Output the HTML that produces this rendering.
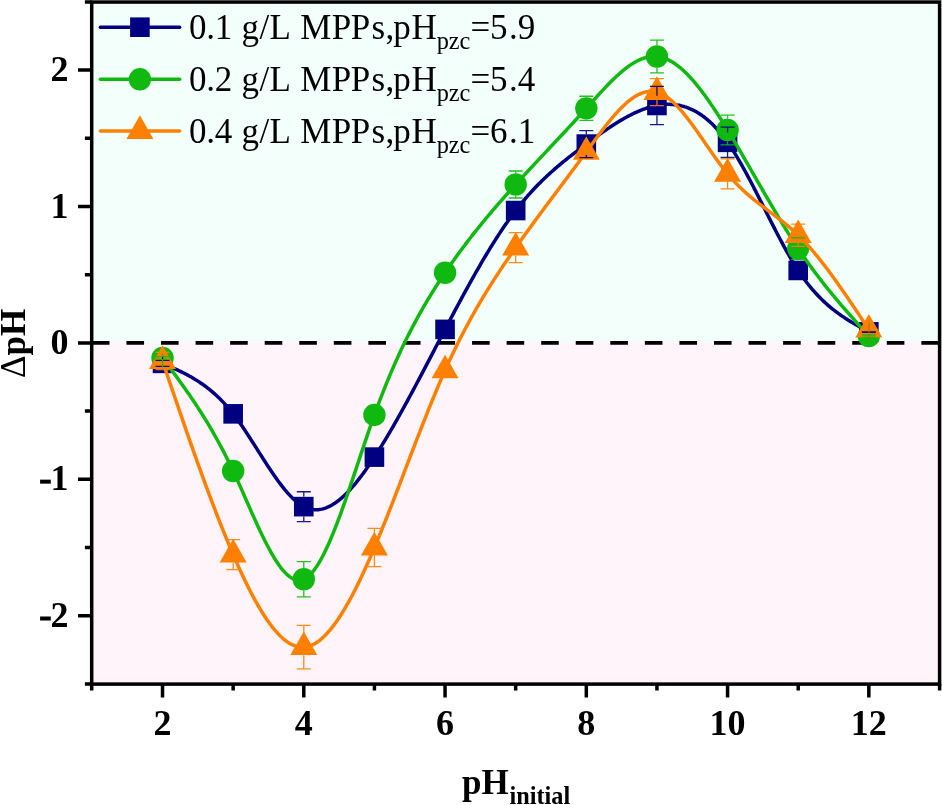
<!DOCTYPE html>
<html><head><meta charset="utf-8"><style>
html,body{margin:0;padding:0;background:#fff;}
svg{display:block;will-change:transform;}
</style></head><body>
<svg width="942" height="805" viewBox="0 0 942 805">
<rect width="942" height="805" fill="#fff"/>
<rect x="91.7" y="2.05" width="847.90" height="340.85" fill="#F3FFFA"/>
<rect x="91.7" y="342.90" width="847.90" height="341.20" fill="#FFF4FA"/>
<line x1="91.7" y1="342.90" x2="939.6" y2="342.90" stroke="#000" stroke-width="3.6" stroke-dasharray="17.6 16.96" stroke-dashoffset="-0.2"/>
<polyline points="162.53,363.37 163.71,363.88 164.89,364.38 166.07,364.89 167.25,365.40 168.43,365.92 169.60,366.43 170.78,366.95 171.96,367.48 173.14,368.01 174.32,368.54 175.50,369.08 176.68,369.62 177.86,370.17 179.04,370.73 180.22,371.30 181.40,371.87 182.58,372.46 183.75,373.05 184.93,373.66 186.11,374.27 187.29,374.90 188.47,375.53 189.65,376.18 190.83,376.85 192.01,377.52 193.19,378.21 194.37,378.92 195.55,379.64 196.72,380.37 197.90,381.12 199.08,381.89 200.26,382.68 201.44,383.48 202.62,384.30 203.80,385.14 204.98,386.01 206.16,386.89 207.34,387.79 208.52,388.71 209.70,389.66 210.87,390.62 212.05,391.61 213.23,392.63 214.41,393.67 215.59,394.73 216.77,395.82 217.95,396.93 219.13,398.07 220.31,399.24 221.49,400.43 222.67,401.65 223.84,402.90 225.02,404.18 226.20,405.49 227.38,406.83 228.56,408.20 229.74,409.61 230.92,411.04 232.10,412.51 233.28,414.01 234.46,415.54 235.64,417.10 236.82,418.70 237.99,420.32 239.17,421.97 240.35,423.65 241.53,425.34 242.71,427.07 243.89,428.81 245.07,430.57 246.25,432.35 247.43,434.14 248.61,435.95 249.79,437.77 250.96,439.60 252.14,441.43 253.32,443.28 254.50,445.13 255.68,446.99 256.86,448.85 258.04,450.71 259.22,452.57 260.40,454.43 261.58,456.28 262.76,458.13 263.94,459.97 265.11,461.80 266.29,463.62 267.47,465.43 268.65,467.23 269.83,469.01 271.01,470.78 272.19,472.52 273.37,474.25 274.55,475.95 275.73,477.63 276.91,479.29 278.08,480.92 279.26,482.52 280.44,484.09 281.62,485.63 282.80,487.14 283.98,488.61 285.16,490.04 286.34,491.44 287.52,492.80 288.70,494.12 289.88,495.39 291.06,496.62 292.23,497.81 293.41,498.94 294.59,500.03 295.77,501.07 296.95,502.05 298.13,502.98 299.31,503.86 300.49,504.67 301.67,505.43 302.85,506.13 304.03,506.76 305.20,507.33 306.38,507.84 307.56,508.29 308.74,508.68 309.92,509.00 311.10,509.27 312.28,509.48 313.46,509.63 314.64,509.72 315.82,509.76 317.00,509.74 318.18,509.66 319.35,509.53 320.53,509.35 321.71,509.12 322.89,508.83 324.07,508.49 325.25,508.11 326.43,507.67 327.61,507.18 328.79,506.65 329.97,506.07 331.15,505.44 332.32,504.77 333.50,504.05 334.68,503.29 335.86,502.48 337.04,501.63 338.22,500.74 339.40,499.81 340.58,498.84 341.76,497.83 342.94,496.78 344.12,495.69 345.30,494.56 346.47,493.40 347.65,492.20 348.83,490.97 350.01,489.70 351.19,488.40 352.37,487.07 353.55,485.71 354.73,484.31 355.91,482.88 357.09,481.43 358.27,479.94 359.45,478.43 360.62,476.89 361.80,475.32 362.98,473.73 364.16,472.12 365.34,470.47 366.52,468.81 367.70,467.12 368.88,465.41 370.06,463.68 371.24,461.93 372.42,460.16 373.59,458.37 374.77,456.56 375.95,454.74 377.13,452.90 378.31,451.04 379.49,449.16 380.67,447.27 381.85,445.37 383.03,443.44 384.21,441.51 385.39,439.56 386.57,437.59 387.74,435.61 388.92,433.61 390.10,431.61 391.28,429.59 392.46,427.55 393.64,425.51 394.82,423.45 396.00,421.38 397.18,419.30 398.36,417.21 399.54,415.11 400.71,413.00 401.89,410.88 403.07,408.74 404.25,406.60 405.43,404.45 406.61,402.29 407.79,400.13 408.97,397.95 410.15,395.77 411.33,393.58 412.51,391.39 413.69,389.18 414.86,386.98 416.04,384.76 417.22,382.54 418.40,380.32 419.58,378.09 420.76,375.85 421.94,373.61 423.12,371.37 424.30,369.12 425.48,366.87 426.66,364.62 427.83,362.37 429.01,360.11 430.19,357.85 431.37,355.59 432.55,353.33 433.73,351.07 434.91,348.81 436.09,346.55 437.27,344.29 438.45,342.03 439.63,339.77 440.81,337.51 441.98,335.25 443.16,332.99 444.34,330.74 445.52,328.49 446.70,326.24 447.88,324.00 449.06,321.76 450.24,319.52 451.42,317.29 452.60,315.06 453.78,312.84 454.95,310.62 456.13,308.41 457.31,306.21 458.49,304.00 459.67,301.81 460.85,299.62 462.03,297.44 463.21,295.27 464.39,293.10 465.57,290.94 466.75,288.79 467.93,286.65 469.10,284.52 470.28,282.39 471.46,280.28 472.64,278.17 473.82,276.08 475.00,273.99 476.18,271.92 477.36,269.86 478.54,267.80 479.72,265.76 480.90,263.73 482.07,261.71 483.25,259.71 484.43,257.72 485.61,255.74 486.79,253.77 487.97,251.82 489.15,249.88 490.33,247.95 491.51,246.04 492.69,244.15 493.87,242.26 495.05,240.40 496.22,238.55 497.40,236.71 498.58,234.90 499.76,233.10 500.94,231.31 502.12,229.54 503.30,227.79 504.48,226.06 505.66,224.35 506.84,222.65 508.02,220.97 509.19,219.31 510.37,217.67 511.55,216.05 512.73,214.45 513.91,212.87 515.09,211.32 516.27,209.78 517.45,208.26 518.63,206.76 519.81,205.28 520.99,203.83 522.17,202.39 523.34,200.97 524.52,199.57 525.70,198.18 526.88,196.82 528.06,195.47 529.24,194.14 530.42,192.83 531.60,191.54 532.78,190.26 533.96,189.00 535.14,187.75 536.31,186.52 537.49,185.30 538.67,184.10 539.85,182.91 541.03,181.74 542.21,180.58 543.39,179.44 544.57,178.30 545.75,177.19 546.93,176.08 548.11,174.98 549.29,173.90 550.46,172.83 551.64,171.77 552.82,170.72 554.00,169.68 555.18,168.65 556.36,167.64 557.54,166.63 558.72,165.63 559.90,164.64 561.08,163.65 562.26,162.68 563.43,161.72 564.61,160.76 565.79,159.81 566.97,158.86 568.15,157.93 569.33,156.99 570.51,156.07 571.69,155.15 572.87,154.24 574.05,153.33 575.23,152.42 576.41,151.52 577.58,150.63 578.76,149.74 579.94,148.85 581.12,147.96 582.30,147.08 583.48,146.20 584.66,145.32 585.84,144.44 587.02,143.57 588.20,142.69 589.38,141.82 590.55,140.95 591.73,140.08 592.91,139.22 594.09,138.36 595.27,137.50 596.45,136.64 597.63,135.79 598.81,134.95 599.99,134.11 601.17,133.27 602.35,132.44 603.53,131.61 604.70,130.79 605.88,129.98 607.06,129.17 608.24,128.38 609.42,127.58 610.60,126.80 611.78,126.02 612.96,125.25 614.14,124.49 615.32,123.74 616.50,123.00 617.67,122.27 618.85,121.54 620.03,120.83 621.21,120.13 622.39,119.44 623.57,118.76 624.75,118.09 625.93,117.43 627.11,116.79 628.29,116.16 629.47,115.54 630.65,114.93 631.82,114.34 633.00,113.76 634.18,113.19 635.36,112.64 636.54,112.11 637.72,111.58 638.90,111.08 640.08,110.59 641.26,110.11 642.44,109.66 643.62,109.21 644.79,108.79 645.97,108.38 647.15,107.99 648.33,107.62 649.51,107.27 650.69,106.93 651.87,106.61 653.05,106.32 654.23,106.04 655.41,105.78 656.59,105.54 657.77,105.33 658.94,105.13 660.12,104.96 661.30,104.80 662.48,104.67 663.66,104.56 664.84,104.47 666.02,104.41 667.20,104.37 668.38,104.35 669.56,104.36 670.74,104.39 671.91,104.45 673.09,104.53 674.27,104.64 675.45,104.77 676.63,104.93 677.81,105.12 678.99,105.33 680.17,105.58 681.35,105.84 682.53,106.14 683.71,106.47 684.89,106.82 686.06,107.21 687.24,107.62 688.42,108.07 689.60,108.54 690.78,109.04 691.96,109.58 693.14,110.15 694.32,110.75 695.50,111.38 696.68,112.05 697.86,112.74 699.04,113.47 700.21,114.24 701.39,115.04 702.57,115.87 703.75,116.74 704.93,117.64 706.11,118.58 707.29,119.56 708.47,120.57 709.65,121.61 710.83,122.70 712.01,123.82 713.18,124.98 714.36,126.18 715.54,127.42 716.72,128.69 717.90,130.01 719.08,131.36 720.26,132.76 721.44,134.19 722.62,135.67 723.80,137.18 724.98,138.74 726.16,140.34 727.33,141.98 728.51,143.67 729.69,145.40 730.87,147.16 732.05,148.97 733.23,150.81 734.41,152.69 735.59,154.60 736.77,156.55 737.95,158.53 739.13,160.54 740.30,162.58 741.48,164.65 742.66,166.74 743.84,168.86 745.02,171.01 746.20,173.17 747.38,175.36 748.56,177.57 749.74,179.79 750.92,182.04 752.10,184.29 753.28,186.57 754.45,188.85 755.63,191.15 756.81,193.46 757.99,195.78 759.17,198.10 760.35,200.43 761.53,202.77 762.71,205.11 763.89,207.45 765.07,209.80 766.25,212.14 767.42,214.48 768.60,216.82 769.78,219.15 770.96,221.48 772.14,223.80 773.32,226.11 774.50,228.41 775.68,230.70 776.86,232.98 778.04,235.24 779.22,237.49 780.40,239.72 781.57,241.94 782.75,244.13 783.93,246.30 785.11,248.45 786.29,250.58 787.47,252.68 788.65,254.76 789.83,256.81 791.01,258.83 792.19,260.82 793.37,262.78 794.54,264.70 795.72,266.59 796.90,268.45 798.08,270.27 799.26,272.05 800.44,273.79 801.62,275.49 802.80,277.16 803.98,278.79 805.16,280.39 806.34,281.95 807.52,283.48 808.69,284.97 809.87,286.43 811.05,287.86 812.23,289.26 813.41,290.62 814.59,291.96 815.77,293.27 816.95,294.54 818.13,295.79 819.31,297.01 820.49,298.21 821.66,299.38 822.84,300.52 824.02,301.64 825.20,302.73 826.38,303.80 827.56,304.84 828.74,305.87 829.92,306.87 831.10,307.85 832.28,308.81 833.46,309.75 834.64,310.67 835.81,311.57 836.99,312.45 838.17,313.32 839.35,314.17 840.53,315.00 841.71,315.82 842.89,316.62 844.07,317.41 845.25,318.19 846.43,318.95 847.61,319.70 848.78,320.44 849.96,321.17 851.14,321.88 852.32,322.59 853.50,323.29 854.68,323.98 855.86,324.66 857.04,325.34 858.22,326.01 859.40,326.67 860.58,327.33 861.76,327.98 862.93,328.63 864.11,329.28 865.29,329.92 866.47,330.57 867.65,331.21 868.83,331.85" fill="none" stroke="#000080" stroke-width="3.5" stroke-linejoin="round"/>
<rect x="152.73" y="353.57" width="19.6" height="19.6" fill="#000080"/>
<rect x="223.36" y="404.05" width="19.6" height="19.6" fill="#000080"/>
<rect x="293.99" y="496.84" width="19.6" height="19.6" fill="#000080"/>
<rect x="364.62" y="447.31" width="19.6" height="19.6" fill="#000080"/>
<rect x="435.25" y="319.59" width="19.6" height="19.6" fill="#000080"/>
<rect x="505.88" y="200.74" width="19.6" height="19.6" fill="#000080"/>
<rect x="576.51" y="134.29" width="19.6" height="19.6" fill="#000080"/>
<rect x="647.14" y="95.68" width="19.6" height="19.6" fill="#000080"/>
<rect x="717.77" y="132.52" width="19.6" height="19.6" fill="#000080"/>
<rect x="788.40" y="260.65" width="19.6" height="19.6" fill="#000080"/>
<rect x="859.03" y="322.05" width="19.6" height="19.6" fill="#000080"/>
<polyline points="162.53,357.91 163.71,359.49 164.89,361.07 166.07,362.65 167.25,364.24 168.43,365.83 169.60,367.41 170.78,369.01 171.96,370.60 173.14,372.20 174.32,373.81 175.50,375.41 176.68,377.03 177.86,378.65 179.04,380.28 180.22,381.91 181.40,383.56 182.58,385.21 183.75,386.87 184.93,388.54 186.11,390.22 187.29,391.90 188.47,393.60 189.65,395.32 190.83,397.04 192.01,398.77 193.19,400.52 194.37,402.28 195.55,404.06 196.72,405.85 197.90,407.65 199.08,409.47 200.26,411.31 201.44,413.16 202.62,415.03 203.80,416.92 204.98,418.82 206.16,420.75 207.34,422.69 208.52,424.65 209.70,426.63 210.87,428.64 212.05,430.66 213.23,432.71 214.41,434.77 215.59,436.86 216.77,438.98 217.95,441.11 219.13,443.27 220.31,445.46 221.49,447.67 222.67,449.91 223.84,452.17 225.02,454.46 226.20,456.78 227.38,459.12 228.56,461.49 229.74,463.89 230.92,466.33 232.10,468.79 233.28,471.28 234.46,473.80 235.64,476.35 236.82,478.92 237.99,481.52 239.17,484.13 240.35,486.77 241.53,489.41 242.71,492.07 243.89,494.74 245.07,497.42 246.25,500.09 247.43,502.77 248.61,505.45 249.79,508.12 250.96,510.78 252.14,513.44 253.32,516.08 254.50,518.70 255.68,521.31 256.86,523.90 258.04,526.46 259.22,529.00 260.40,531.51 261.58,533.98 262.76,536.42 263.94,538.83 265.11,541.19 266.29,543.51 267.47,545.79 268.65,548.02 269.83,550.20 271.01,552.32 272.19,554.39 273.37,556.40 274.55,558.35 275.73,560.23 276.91,562.05 278.08,563.79 279.26,565.47 280.44,567.07 281.62,568.59 282.80,570.03 283.98,571.39 285.16,572.66 286.34,573.85 287.52,574.94 288.70,575.94 289.88,576.84 291.06,577.64 292.23,578.34 293.41,578.94 294.59,579.42 295.77,579.80 296.95,580.06 298.13,580.21 299.31,580.24 300.49,580.15 301.67,579.94 302.85,579.60 304.03,579.13 305.20,578.53 306.38,577.80 307.56,576.94 308.74,575.97 309.92,574.87 311.10,573.66 312.28,572.33 313.46,570.90 314.64,569.35 315.82,567.70 317.00,565.95 318.18,564.10 319.35,562.15 320.53,560.11 321.71,557.98 322.89,555.75 324.07,553.45 325.25,551.06 326.43,548.59 327.61,546.04 328.79,543.43 329.97,540.73 331.15,537.98 332.32,535.15 333.50,532.27 334.68,529.32 335.86,526.32 337.04,523.26 338.22,520.15 339.40,517.00 340.58,513.79 341.76,510.55 342.94,507.26 344.12,503.94 345.30,500.59 346.47,497.20 347.65,493.79 348.83,490.35 350.01,486.88 351.19,483.40 352.37,479.90 353.55,476.39 354.73,472.86 355.91,469.33 357.09,465.79 358.27,462.25 359.45,458.71 360.62,455.17 361.80,451.63 362.98,448.11 364.16,444.60 365.34,441.10 366.52,437.62 367.70,434.15 368.88,430.72 370.06,427.30 371.24,423.92 372.42,420.57 373.59,417.25 374.77,413.97 375.95,410.72 377.13,407.52 378.31,404.35 379.49,401.22 380.67,398.13 381.85,395.08 383.03,392.06 384.21,389.07 385.39,386.13 386.57,383.21 387.74,380.33 388.92,377.49 390.10,374.68 391.28,371.90 392.46,369.16 393.64,366.44 394.82,363.76 396.00,361.11 397.18,358.49 398.36,355.90 399.54,353.34 400.71,350.82 401.89,348.31 403.07,345.84 404.25,343.40 405.43,340.98 406.61,338.59 407.79,336.23 408.97,333.90 410.15,331.59 411.33,329.30 412.51,327.04 413.69,324.81 414.86,322.60 416.04,320.41 417.22,318.24 418.40,316.10 419.58,313.98 420.76,311.88 421.94,309.81 423.12,307.75 424.30,305.72 425.48,303.70 426.66,301.71 427.83,299.73 429.01,297.77 430.19,295.83 431.37,293.91 432.55,292.01 433.73,290.12 434.91,288.25 436.09,286.39 437.27,284.55 438.45,282.73 439.63,280.92 440.81,279.12 441.98,277.34 443.16,275.57 444.34,273.81 445.52,272.07 446.70,270.34 447.88,268.62 449.06,266.91 450.24,265.21 451.42,263.52 452.60,261.85 453.78,260.19 454.95,258.53 456.13,256.89 457.31,255.26 458.49,253.64 459.67,252.03 460.85,250.43 462.03,248.84 463.21,247.26 464.39,245.69 465.57,244.12 466.75,242.57 467.93,241.03 469.10,239.50 470.28,237.97 471.46,236.46 472.64,234.95 473.82,233.45 475.00,231.96 476.18,230.48 477.36,229.00 478.54,227.53 479.72,226.08 480.90,224.62 482.07,223.18 483.25,221.74 484.43,220.31 485.61,218.89 486.79,217.48 487.97,216.07 489.15,214.66 490.33,213.27 491.51,211.88 492.69,210.49 493.87,209.11 495.05,207.74 496.22,206.37 497.40,205.01 498.58,203.66 499.76,202.30 500.94,200.96 502.12,199.62 503.30,198.28 504.48,196.95 505.66,195.62 506.84,194.29 508.02,192.97 509.19,191.66 510.37,190.35 511.55,189.04 512.73,187.73 513.91,186.43 515.09,185.13 516.27,183.83 517.45,182.54 518.63,181.25 519.81,179.96 520.99,178.68 522.17,177.39 523.34,176.11 524.52,174.83 525.70,173.56 526.88,172.28 528.06,171.01 529.24,169.74 530.42,168.47 531.60,167.20 532.78,165.94 533.96,164.67 535.14,163.41 536.31,162.15 537.49,160.89 538.67,159.63 539.85,158.37 541.03,157.11 542.21,155.85 543.39,154.60 544.57,153.34 545.75,152.08 546.93,150.83 548.11,149.57 549.29,148.32 550.46,147.06 551.64,145.80 552.82,144.55 554.00,143.29 555.18,142.03 556.36,140.78 557.54,139.52 558.72,138.26 559.90,137.00 561.08,135.74 562.26,134.48 563.43,133.22 564.61,131.95 565.79,130.69 566.97,129.42 568.15,128.15 569.33,126.88 570.51,125.61 571.69,124.33 572.87,123.06 574.05,121.78 575.23,120.50 576.41,119.22 577.58,117.93 578.76,116.65 579.94,115.36 581.12,114.06 582.30,112.77 583.48,111.47 584.66,110.17 585.84,108.87 587.02,107.56 588.20,106.25 589.38,104.94 590.55,103.62 591.73,102.31 592.91,101.00 594.09,99.69 595.27,98.38 596.45,97.08 597.63,95.78 598.81,94.48 599.99,93.19 601.17,91.91 602.35,90.64 603.53,89.38 604.70,88.12 605.88,86.88 607.06,85.65 608.24,84.43 609.42,83.23 610.60,82.04 611.78,80.86 612.96,79.70 614.14,78.56 615.32,77.44 616.50,76.33 617.67,75.25 618.85,74.18 620.03,73.14 621.21,72.12 622.39,71.12 623.57,70.15 624.75,69.20 625.93,68.28 627.11,67.39 628.29,66.52 629.47,65.69 630.65,64.88 631.82,64.10 633.00,63.36 634.18,62.64 635.36,61.96 636.54,61.32 637.72,60.71 638.90,60.13 640.08,59.60 641.26,59.10 642.44,58.64 643.62,58.22 644.79,57.84 645.97,57.50 647.15,57.20 648.33,56.95 649.51,56.74 650.69,56.57 651.87,56.45 653.05,56.38 654.23,56.36 655.41,56.38 656.59,56.46 657.77,56.58 658.94,56.76 660.12,56.98 661.30,57.26 662.48,57.58 663.66,57.95 664.84,58.37 666.02,58.83 667.20,59.34 668.38,59.89 669.56,60.49 670.74,61.13 671.91,61.81 673.09,62.53 674.27,63.30 675.45,64.11 676.63,64.96 677.81,65.84 678.99,66.77 680.17,67.73 681.35,68.73 682.53,69.77 683.71,70.84 684.89,71.95 686.06,73.10 687.24,74.27 688.42,75.49 689.60,76.73 690.78,78.00 691.96,79.31 693.14,80.65 694.32,82.01 695.50,83.41 696.68,84.83 697.86,86.29 699.04,87.77 700.21,89.27 701.39,90.80 702.57,92.36 703.75,93.94 704.93,95.55 706.11,97.18 707.29,98.83 708.47,100.50 709.65,102.19 710.83,103.90 712.01,105.64 713.18,107.39 714.36,109.16 715.54,110.95 716.72,112.75 717.90,114.58 719.08,116.41 720.26,118.26 721.44,120.13 722.62,122.01 723.80,123.90 724.98,125.81 726.16,127.72 727.33,129.65 728.51,131.59 729.69,133.54 730.87,135.49 732.05,137.46 733.23,139.43 734.41,141.41 735.59,143.40 736.77,145.40 737.95,147.40 739.13,149.41 740.30,151.42 741.48,153.44 742.66,155.47 743.84,157.50 745.02,159.53 746.20,161.57 747.38,163.61 748.56,165.66 749.74,167.70 750.92,169.75 752.10,171.80 753.28,173.85 754.45,175.90 755.63,177.96 756.81,180.01 757.99,182.06 759.17,184.11 760.35,186.16 761.53,188.21 762.71,190.25 763.89,192.29 765.07,194.33 766.25,196.37 767.42,198.40 768.60,200.43 769.78,202.45 770.96,204.47 772.14,206.48 773.32,208.48 774.50,210.48 775.68,212.47 776.86,214.46 778.04,216.44 779.22,218.40 780.40,220.36 781.57,222.32 782.75,224.26 783.93,226.19 785.11,228.11 786.29,230.02 787.47,231.92 788.65,233.81 789.83,235.68 791.01,237.54 792.19,239.39 793.37,241.23 794.54,243.05 795.72,244.86 796.90,246.66 798.08,248.44 799.26,250.20 800.44,251.95 801.62,253.68 802.80,255.40 803.98,257.10 805.16,258.79 806.34,260.47 807.52,262.13 808.69,263.78 809.87,265.42 811.05,267.04 812.23,268.65 813.41,270.25 814.59,271.83 815.77,273.41 816.95,274.97 818.13,276.52 819.31,278.06 820.49,279.58 821.66,281.10 822.84,282.61 824.02,284.11 825.20,285.59 826.38,287.07 827.56,288.54 828.74,290.00 829.92,291.45 831.10,292.89 832.28,294.33 833.46,295.75 834.64,297.17 835.81,298.58 836.99,299.98 838.17,301.38 839.35,302.77 840.53,304.15 841.71,305.53 842.89,306.90 844.07,308.27 845.25,309.63 846.43,310.98 847.61,312.33 848.78,313.67 849.96,315.02 851.14,316.35 852.32,317.68 853.50,319.01 854.68,320.34 855.86,321.66 857.04,322.98 858.22,324.30 859.40,325.61 860.58,326.93 861.76,328.24 862.93,329.55 864.11,330.85 865.29,332.16 866.47,333.47 867.65,334.77 868.83,336.08" fill="none" stroke="#10B910" stroke-width="3.5" stroke-linejoin="round"/>
<circle cx="162.53" cy="357.91" r="11.2" fill="#10B910"/>
<circle cx="233.16" cy="471.03" r="11.2" fill="#10B910"/>
<circle cx="303.79" cy="579.23" r="11.2" fill="#10B910"/>
<circle cx="374.42" cy="414.95" r="11.2" fill="#10B910"/>
<circle cx="445.05" cy="272.76" r="11.2" fill="#10B910"/>
<circle cx="515.68" cy="184.48" r="11.2" fill="#10B910"/>
<circle cx="586.31" cy="108.34" r="11.2" fill="#10B910"/>
<circle cx="656.94" cy="56.49" r="11.2" fill="#10B910"/>
<circle cx="727.57" cy="130.04" r="11.2" fill="#10B910"/>
<circle cx="798.20" cy="248.61" r="11.2" fill="#10B910"/>
<circle cx="868.83" cy="336.08" r="11.2" fill="#10B910"/>
<polyline points="162.53,361.05 163.71,364.53 164.89,368.01 166.07,371.49 167.25,374.96 168.43,378.44 169.60,381.91 170.78,385.38 171.96,388.85 173.14,392.31 174.32,395.78 175.50,399.23 176.68,402.68 177.86,406.13 179.04,409.57 180.22,413.01 181.40,416.44 182.58,419.86 183.75,423.28 184.93,426.69 186.11,430.09 187.29,433.48 188.47,436.86 189.65,440.24 190.83,443.60 192.01,446.95 193.19,450.30 194.37,453.63 195.55,456.95 196.72,460.26 197.90,463.56 199.08,466.85 200.26,470.12 201.44,473.38 202.62,476.62 203.80,479.86 204.98,483.07 206.16,486.27 207.34,489.46 208.52,492.63 209.70,495.79 210.87,498.92 212.05,502.04 213.23,505.15 214.41,508.23 215.59,511.30 216.77,514.34 217.95,517.37 219.13,520.38 220.31,523.37 221.49,526.34 222.67,529.29 223.84,532.21 225.02,535.12 226.20,538.00 227.38,540.86 228.56,543.70 229.74,546.51 230.92,549.30 232.10,552.07 233.28,554.81 234.46,557.52 235.64,560.21 236.82,562.88 237.99,565.51 239.17,568.12 240.35,570.70 241.53,573.25 242.71,575.77 243.89,578.26 245.07,580.72 246.25,583.14 247.43,585.53 248.61,587.89 249.79,590.22 250.96,592.50 252.14,594.76 253.32,596.97 254.50,599.15 255.68,601.29 256.86,603.39 258.04,605.45 259.22,607.47 260.40,609.45 261.58,611.39 262.76,613.29 263.94,615.14 265.11,616.95 266.29,618.71 267.47,620.43 268.65,622.10 269.83,623.73 271.01,625.30 272.19,626.83 273.37,628.31 274.55,629.74 275.73,631.12 276.91,632.45 278.08,633.73 279.26,634.95 280.44,636.12 281.62,637.24 282.80,638.30 283.98,639.30 285.16,640.25 286.34,641.14 287.52,641.98 288.70,642.75 289.88,643.47 291.06,644.12 292.23,644.72 293.41,645.25 294.59,645.72 295.77,646.13 296.95,646.48 298.13,646.76 299.31,646.97 300.49,647.12 301.67,647.20 302.85,647.22 304.03,647.17 305.20,647.05 306.38,646.86 307.56,646.60 308.74,646.28 309.92,645.89 311.10,645.44 312.28,644.93 313.46,644.35 314.64,643.71 315.82,643.01 317.00,642.24 318.18,641.42 319.35,640.54 320.53,639.60 321.71,638.60 322.89,637.55 324.07,636.44 325.25,635.27 326.43,634.05 327.61,632.78 328.79,631.45 329.97,630.07 331.15,628.64 332.32,627.16 333.50,625.63 334.68,624.05 335.86,622.42 337.04,620.74 338.22,619.02 339.40,617.26 340.58,615.44 341.76,613.58 342.94,611.68 344.12,609.74 345.30,607.75 346.47,605.73 347.65,603.66 348.83,601.55 350.01,599.41 351.19,597.22 352.37,595.00 353.55,592.74 354.73,590.45 355.91,588.12 357.09,585.76 358.27,583.36 359.45,580.93 360.62,578.47 361.80,575.98 362.98,573.46 364.16,570.91 365.34,568.33 366.52,565.72 367.70,563.08 368.88,560.42 370.06,557.73 371.24,555.02 372.42,552.28 373.59,549.52 374.77,546.74 375.95,543.93 377.13,541.11 378.31,538.26 379.49,535.40 380.67,532.51 381.85,529.61 383.03,526.70 384.21,523.76 385.39,520.81 386.57,517.85 387.74,514.87 388.92,511.88 390.10,508.88 391.28,505.87 392.46,502.84 393.64,499.81 394.82,496.77 396.00,493.72 397.18,490.66 398.36,487.60 399.54,484.53 400.71,481.46 401.89,478.38 403.07,475.30 404.25,472.22 405.43,469.14 406.61,466.06 407.79,462.97 408.97,459.89 410.15,456.81 411.33,453.73 412.51,450.66 413.69,447.59 414.86,444.53 416.04,441.47 417.22,438.42 418.40,435.37 419.58,432.34 420.76,429.31 421.94,426.30 423.12,423.29 424.30,420.30 425.48,417.32 426.66,414.35 427.83,411.40 429.01,408.46 430.19,405.54 431.37,402.63 432.55,399.74 433.73,396.87 434.91,394.02 436.09,391.19 437.27,388.38 438.45,385.59 439.63,382.82 440.81,380.08 441.98,377.36 443.16,374.67 444.34,372.00 445.52,369.35 446.70,366.74 447.88,364.15 449.06,361.59 450.24,359.05 451.42,356.54 452.60,354.05 453.78,351.59 454.95,349.15 456.13,346.73 457.31,344.34 458.49,341.97 459.67,339.63 460.85,337.31 462.03,335.00 463.21,332.73 464.39,330.47 465.57,328.23 466.75,326.02 467.93,323.82 469.10,321.64 470.28,319.49 471.46,317.35 472.64,315.23 473.82,313.13 475.00,311.05 476.18,308.99 477.36,306.94 478.54,304.91 479.72,302.90 480.90,300.90 482.07,298.92 483.25,296.96 484.43,295.01 485.61,293.08 486.79,291.16 487.97,289.25 489.15,287.36 490.33,285.48 491.51,283.61 492.69,281.76 493.87,279.92 495.05,278.09 496.22,276.27 497.40,274.47 498.58,272.67 499.76,270.89 500.94,269.12 502.12,267.35 503.30,265.60 504.48,263.85 505.66,262.12 506.84,260.39 508.02,258.67 509.19,256.96 510.37,255.25 511.55,253.55 512.73,251.86 513.91,250.18 515.09,248.50 516.27,246.82 517.45,245.15 518.63,243.49 519.81,241.83 520.99,240.18 522.17,238.53 523.34,236.88 524.52,235.24 525.70,233.61 526.88,231.98 528.06,230.35 529.24,228.72 530.42,227.10 531.60,225.49 532.78,223.87 533.96,222.26 535.14,220.66 536.31,219.05 537.49,217.45 538.67,215.86 539.85,214.26 541.03,212.67 542.21,211.08 543.39,209.49 544.57,207.90 545.75,206.32 546.93,204.73 548.11,203.15 549.29,201.57 550.46,199.99 551.64,198.41 552.82,196.84 554.00,195.26 555.18,193.69 556.36,192.11 557.54,190.54 558.72,188.96 559.90,187.39 561.08,185.82 562.26,184.24 563.43,182.67 564.61,181.09 565.79,179.52 566.97,177.94 568.15,176.36 569.33,174.79 570.51,173.21 571.69,171.63 572.87,170.05 574.05,168.46 575.23,166.88 576.41,165.29 577.58,163.70 578.76,162.11 579.94,160.52 581.12,158.92 582.30,157.32 583.48,155.72 584.66,154.12 585.84,152.51 587.02,150.90 588.20,149.29 589.38,147.68 590.55,146.06 591.73,144.45 592.91,142.84 594.09,141.23 595.27,139.63 596.45,138.04 597.63,136.45 598.81,134.87 599.99,133.29 601.17,131.73 602.35,130.18 603.53,128.65 604.70,127.12 605.88,125.62 607.06,124.12 608.24,122.65 609.42,121.20 610.60,119.76 611.78,118.35 612.96,116.96 614.14,115.59 615.32,114.25 616.50,112.93 617.67,111.64 618.85,110.38 620.03,109.15 621.21,107.95 622.39,106.78 623.57,105.64 624.75,104.54 625.93,103.47 627.11,102.44 628.29,101.45 629.47,100.49 630.65,99.58 631.82,98.71 633.00,97.88 634.18,97.09 635.36,96.35 636.54,95.65 637.72,95.00 638.90,94.40 640.08,93.85 641.26,93.35 642.44,92.91 643.62,92.51 644.79,92.17 645.97,91.89 647.15,91.66 648.33,91.49 649.51,91.37 650.69,91.32 651.87,91.33 653.05,91.41 654.23,91.54 655.41,91.74 656.59,92.01 657.77,92.35 658.94,92.75 660.12,93.21 661.30,93.74 662.48,94.33 663.66,94.98 664.84,95.69 666.02,96.46 667.20,97.28 668.38,98.15 669.56,99.08 670.74,100.05 671.91,101.08 673.09,102.15 674.27,103.26 675.45,104.42 676.63,105.63 677.81,106.87 678.99,108.15 680.17,109.46 681.35,110.82 682.53,112.20 683.71,113.62 684.89,115.07 686.06,116.55 687.24,118.05 688.42,119.58 689.60,121.13 690.78,122.71 691.96,124.30 693.14,125.92 694.32,127.55 695.50,129.20 696.68,130.86 697.86,132.53 699.04,134.22 700.21,135.91 701.39,137.61 702.57,139.32 703.75,141.03 704.93,142.74 706.11,144.45 707.29,146.17 708.47,147.88 709.65,149.58 710.83,151.28 712.01,152.97 713.18,154.66 714.36,156.33 715.54,157.99 716.72,159.64 717.90,161.27 719.08,162.88 720.26,164.48 721.44,166.05 722.62,167.60 723.80,169.13 724.98,170.63 726.16,172.11 727.33,173.55 728.51,174.97 729.69,176.35 730.87,177.71 732.05,179.04 733.23,180.34 734.41,181.61 735.59,182.86 736.77,184.09 737.95,185.29 739.13,186.46 740.30,187.62 741.48,188.75 742.66,189.86 743.84,190.96 745.02,192.03 746.20,193.09 747.38,194.13 748.56,195.15 749.74,196.16 750.92,197.15 752.10,198.13 753.28,199.10 754.45,200.05 755.63,201.00 756.81,201.93 757.99,202.86 759.17,203.78 760.35,204.69 761.53,205.59 762.71,206.49 763.89,207.38 765.07,208.27 766.25,209.16 767.42,210.04 768.60,210.92 769.78,211.80 770.96,212.69 772.14,213.57 773.32,214.46 774.50,215.35 775.68,216.24 776.86,217.14 778.04,218.04 779.22,218.95 780.40,219.87 781.57,220.80 782.75,221.73 783.93,222.68 785.11,223.63 786.29,224.60 787.47,225.58 788.65,226.58 789.83,227.59 791.01,228.61 792.19,229.65 793.37,230.71 794.54,231.78 795.72,232.88 796.90,233.99 798.08,235.13 799.26,236.28 800.44,237.46 801.62,238.66 802.80,239.87 803.98,241.11 805.16,242.37 806.34,243.65 807.52,244.94 808.69,246.26 809.87,247.59 811.05,248.94 812.23,250.31 813.41,251.70 814.59,253.10 815.77,254.52 816.95,255.96 818.13,257.41 819.31,258.87 820.49,260.36 821.66,261.85 822.84,263.36 824.02,264.89 825.20,266.43 826.38,267.98 827.56,269.54 828.74,271.12 829.92,272.71 831.10,274.31 832.28,275.93 833.46,277.55 834.64,279.18 835.81,280.83 836.99,282.48 838.17,284.15 839.35,285.82 840.53,287.51 841.71,289.20 842.89,290.90 844.07,292.61 845.25,294.32 846.43,296.05 847.61,297.78 848.78,299.51 849.96,301.25 851.14,303.00 852.32,304.75 853.50,306.51 854.68,308.28 855.86,310.04 857.04,311.81 858.22,313.59 859.40,315.37 860.58,317.15 861.76,318.93 862.93,320.72 864.11,322.50 865.29,324.29 866.47,326.08 867.65,327.87 868.83,329.66" fill="none" stroke="#FF8000" stroke-width="3.5" stroke-linejoin="round"/>
<polygon points="162.53,345.31 176.03,368.91 149.03,368.91" fill="#FF8000"/>
<polygon points="233.16,538.80 246.66,562.40 219.66,562.40" fill="#FF8000"/>
<polygon points="303.79,631.45 317.29,655.05 290.29,655.05" fill="#FF8000"/>
<polygon points="374.42,531.84 387.92,555.44 360.92,555.44" fill="#FF8000"/>
<polygon points="445.05,354.67 458.55,378.27 431.55,378.27" fill="#FF8000"/>
<polygon points="515.68,231.92 529.18,255.52 502.18,255.52" fill="#FF8000"/>
<polygon points="586.31,136.14 599.81,159.74 572.81,159.74" fill="#FF8000"/>
<polygon points="656.94,76.37 670.44,99.97 643.44,99.97" fill="#FF8000"/>
<polygon points="727.57,158.11 741.07,181.71 714.07,181.71" fill="#FF8000"/>
<polygon points="798.20,219.51 811.70,243.11 784.70,243.11" fill="#FF8000"/>
<polygon points="868.83,313.93 882.33,337.53 855.33,337.53" fill="#FF8000"/>
<path d="M155.53,360.37H169.53M155.53,366.37H169.53" stroke="#000080" stroke-width="1.3" stroke-opacity="0.9" fill="none"/>
<path d="M226.16,410.85H240.16M226.16,416.85H240.16" stroke="#000080" stroke-width="1.3" stroke-opacity="0.9" fill="none"/>
<path d="M303.79,496.84V491.74M303.79,516.44V521.54M296.79,491.74H310.79M296.79,521.54H310.79" stroke="#000080" stroke-width="1.3" stroke-opacity="0.9" fill="none"/>
<path d="M367.42,454.11H381.42M367.42,460.11H381.42" stroke="#000080" stroke-width="1.3" stroke-opacity="0.9" fill="none"/>
<path d="M438.05,326.39H452.05M438.05,332.39H452.05" stroke="#000080" stroke-width="1.3" stroke-opacity="0.9" fill="none"/>
<path d="M508.68,207.54H522.68M508.68,213.54H522.68" stroke="#000080" stroke-width="1.3" stroke-opacity="0.9" fill="none"/>
<path d="M586.31,134.29V130.59M586.31,153.89V157.59M579.31,130.59H593.31M579.31,157.59H593.31" stroke="#000080" stroke-width="1.3" stroke-opacity="0.9" fill="none"/>
<path d="M656.94,95.68V86.38M656.94,115.28V124.58M649.94,86.38H663.94M649.94,124.58H663.94" stroke="#000080" stroke-width="1.3" stroke-opacity="0.9" fill="none"/>
<path d="M727.57,132.52V127.12M727.57,152.12V157.52M720.57,127.12H734.57M720.57,157.52H734.57" stroke="#000080" stroke-width="1.3" stroke-opacity="0.9" fill="none"/>
<path d="M791.20,267.45H805.20M791.20,273.45H805.20" stroke="#000080" stroke-width="1.3" stroke-opacity="0.9" fill="none"/>
<path d="M861.83,331.35H875.83M861.83,332.35H875.83" stroke="#000080" stroke-width="1.3" stroke-opacity="0.9" fill="none"/>
<path d="M155.53,356.56H169.53M155.53,359.26H169.53" stroke="#10B910" stroke-width="1.3" stroke-opacity="0.9" fill="none"/>
<path d="M226.16,468.03H240.16M226.16,474.03H240.16" stroke="#10B910" stroke-width="1.3" stroke-opacity="0.9" fill="none"/>
<path d="M303.79,568.03V561.63M303.79,590.43V596.83M296.79,561.63H310.79M296.79,596.83H310.79" stroke="#10B910" stroke-width="1.3" stroke-opacity="0.9" fill="none"/>
<path d="M367.42,411.95H381.42M367.42,417.95H381.42" stroke="#10B910" stroke-width="1.3" stroke-opacity="0.9" fill="none"/>
<path d="M438.05,269.76H452.05M438.05,275.76H452.05" stroke="#10B910" stroke-width="1.3" stroke-opacity="0.9" fill="none"/>
<path d="M515.68,173.28V170.98M515.68,195.68V197.98M508.68,170.98H522.68M508.68,197.98H522.68" stroke="#10B910" stroke-width="1.3" stroke-opacity="0.9" fill="none"/>
<path d="M586.31,97.14V96.24M586.31,119.54V120.44M579.31,96.24H593.31M579.31,120.44H593.31" stroke="#10B910" stroke-width="1.3" stroke-opacity="0.9" fill="none"/>
<path d="M656.94,45.29V40.19M656.94,67.69V72.79M649.94,40.19H663.94M649.94,72.79H663.94" stroke="#10B910" stroke-width="1.3" stroke-opacity="0.9" fill="none"/>
<path d="M727.57,118.84V115.14M727.57,141.24V144.94M720.57,115.14H734.57M720.57,144.94H734.57" stroke="#10B910" stroke-width="1.3" stroke-opacity="0.9" fill="none"/>
<path d="M791.20,237.91H805.20M791.20,259.31H805.20" stroke="#10B910" stroke-width="1.3" stroke-opacity="0.9" fill="none"/>
<path d="M861.83,334.98H875.83M861.83,337.18H875.83" stroke="#10B910" stroke-width="1.3" stroke-opacity="0.9" fill="none"/>
<path d="M162.53,353.05V352.45M162.53,369.05V369.65M155.53,352.45H169.53M155.53,369.65H169.53" stroke="#FF8000" stroke-width="1.3" stroke-opacity="0.9" fill="none"/>
<path d="M233.16,546.53V539.53M233.16,562.53V569.53M226.16,539.53H240.16M226.16,569.53H240.16" stroke="#FF8000" stroke-width="1.3" stroke-opacity="0.9" fill="none"/>
<path d="M303.79,639.18V625.43M303.79,655.18V668.93M296.79,625.43H310.79M296.79,668.93H310.79" stroke="#FF8000" stroke-width="1.3" stroke-opacity="0.9" fill="none"/>
<path d="M374.42,539.57V528.47M374.42,555.57V566.67M367.42,528.47H381.42M367.42,566.67H381.42" stroke="#FF8000" stroke-width="1.3" stroke-opacity="0.9" fill="none"/>
<path d="M438.05,367.91H452.05M438.05,372.91H452.05" stroke="#FF8000" stroke-width="1.3" stroke-opacity="0.9" fill="none"/>
<path d="M515.68,239.66V232.66M515.68,255.66V262.66M508.68,232.66H522.68M508.68,262.66H522.68" stroke="#FF8000" stroke-width="1.3" stroke-opacity="0.9" fill="none"/>
<path d="M579.31,149.37H593.31M579.31,154.37H593.31" stroke="#FF8000" stroke-width="1.3" stroke-opacity="0.9" fill="none"/>
<path d="M656.94,84.10V78.60M656.94,100.10V105.60M649.94,78.60H663.94M649.94,105.60H663.94" stroke="#FF8000" stroke-width="1.3" stroke-opacity="0.9" fill="none"/>
<path d="M727.57,165.84V158.84M727.57,181.84V188.84M720.57,158.84H734.57M720.57,188.84H734.57" stroke="#FF8000" stroke-width="1.3" stroke-opacity="0.9" fill="none"/>
<path d="M798.20,227.24V224.19M798.20,243.24V246.29M791.20,224.19H805.20M791.20,246.29H805.20" stroke="#FF8000" stroke-width="1.3" stroke-opacity="0.9" fill="none"/>
<path d="M861.83,328.66H875.83M861.83,330.66H875.83" stroke="#FF8000" stroke-width="1.3" stroke-opacity="0.9" fill="none"/>
<path d="M162.63,353.4V367.4" stroke="#10B910" stroke-width="1.2"/>
<path d="M162.63,356.9V359.1" stroke="#000080" stroke-width="1.2"/>
<path d="M869.03,322.7V341.8" stroke="#8a7a20" stroke-width="1.2" opacity="0.8"/>
<rect x="91.7" y="2.05" width="847.90" height="682.05" fill="none" stroke="#000" stroke-width="3.5"/>
<path d="M78.00,615.80H91.70M78.00,479.35H91.70M78.00,342.90H91.70M78.00,206.45H91.70M78.00,70.00H91.70M84.90,684.10H91.70M84.90,547.57H91.70M84.90,411.12H91.70M84.90,274.67H91.70M84.90,138.22H91.70M84.90,2.05H91.70M162.53,684.10V697.50M303.79,684.10V697.50M445.05,684.10V697.50M586.31,684.10V697.50M727.57,684.10V697.50M868.83,684.10V697.50M91.70,684.10V690.60M233.16,684.10V690.60M374.42,684.10V690.60M515.68,684.10V690.60M656.94,684.10V690.60M798.20,684.10V690.60M939.60,684.10V690.60" stroke="#000" stroke-width="3.5" fill="none"/>
<text x="68.5" y="627.00" font-family="Liberation Serif" font-weight="bold" font-size="36" text-anchor="end">2</text>
<rect x="40.1" y="616.50" width="10.7" height="4.0" fill="#000"/>
<text x="68.5" y="489.55" font-family="Liberation Serif" font-weight="bold" font-size="36" text-anchor="end">1</text>
<rect x="40.1" y="479.65" width="10.7" height="4.0" fill="#000"/>
<text x="68.5" y="354.10" font-family="Liberation Serif" font-weight="bold" font-size="36" text-anchor="end">0</text>
<text x="68.5" y="217.65" font-family="Liberation Serif" font-weight="bold" font-size="36" text-anchor="end">1</text>
<text x="68.5" y="81.20" font-family="Liberation Serif" font-weight="bold" font-size="36" text-anchor="end">2</text>
<text x="162.53" y="735" font-family="Liberation Serif" font-weight="bold" font-size="36" text-anchor="middle">2</text>
<text x="303.79" y="735" font-family="Liberation Serif" font-weight="bold" font-size="36" text-anchor="middle">4</text>
<text x="445.05" y="735" font-family="Liberation Serif" font-weight="bold" font-size="36" text-anchor="middle">6</text>
<text x="586.31" y="735" font-family="Liberation Serif" font-weight="bold" font-size="36" text-anchor="middle">8</text>
<text x="727.57" y="735" font-family="Liberation Serif" font-weight="bold" font-size="36" text-anchor="middle">10</text>
<text x="868.83" y="735" font-family="Liberation Serif" font-weight="bold" font-size="36" text-anchor="middle">12</text>
<text x="462" y="794" font-family="Liberation Serif" font-weight="bold" font-size="35">pH<tspan font-size="24.3" dx="0.8" dy="10">initial</tspan></text>
<text transform="translate(24.6,343.3) rotate(-90)" font-family="Liberation Serif" font-weight="bold" font-size="35" text-anchor="middle"><tspan font-weight="normal">&#916;</tspan>pH</text>
<line x1="100.4" y1="27.2" x2="179.6" y2="27.2" stroke="#000080" stroke-width="3.5" stroke-linecap="round"/>
<rect x="130.10" y="17.40" width="19.6" height="19.6" fill="#000080"/>
<text x="189 206.2 214.75 232.75 241.5 259.6 269.4 290.1 300.3 331.77 350.73 371.45 385.62 393.37 411.47" y="39.10" font-family="Liberation Serif" font-size="35">0.1 g/L MPPs,pH<tspan x="436.7" font-size="24.3" dy="9.6">pzc</tspan><tspan x="470.4 489.94 508.94 517.74" dy="-9.6">=5.9</tspan></text>
<line x1="100.4" y1="79.3" x2="179.6" y2="79.3" stroke="#10B910" stroke-width="3.5" stroke-linecap="round"/>
<circle cx="139.90" cy="79.30" r="11.2" fill="#10B910"/>
<text x="189 206.2 214.75 232.75 241.5 259.6 269.4 290.1 300.3 331.77 350.73 371.45 385.62 393.37 411.47" y="91.40" font-family="Liberation Serif" font-size="35">0.2 g/L MPPs,pH<tspan x="436.7" font-size="24.3" dy="9.6">pzc</tspan><tspan x="470.4 489.94 508.94 517.74" dy="-9.6">=5.4</tspan></text>
<line x1="100.4" y1="131.1" x2="179.6" y2="131.1" stroke="#FF8000" stroke-width="3.5" stroke-linecap="round"/>
<polygon points="139.90,115.37 153.40,138.97 126.40,138.97" fill="#FF8000"/>
<text x="189 206.2 214.75 232.75 241.5 259.6 269.4 290.1 300.3 331.77 350.73 371.45 385.62 393.37 411.47" y="143.45" font-family="Liberation Serif" font-size="35">0.4 g/L MPPs,pH<tspan x="436.7" font-size="24.3" dy="9.6">pzc</tspan><tspan x="470.4 489.94 508.94 517.74" dy="-9.6">=6.1</tspan></text>
</svg>
</body></html>
